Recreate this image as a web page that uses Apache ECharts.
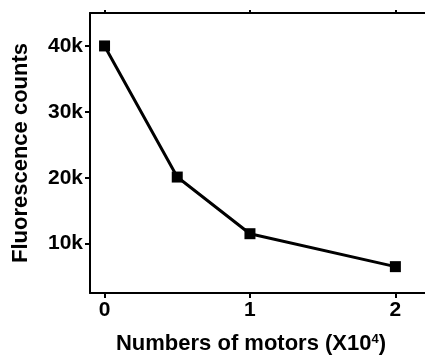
<!DOCTYPE html>
<html>
<head>
<meta charset="utf-8">
<script src="https://cdn.jsdelivr.net/npm/echarts@6/dist/echarts.min.js"></script>
<style>
  html, body { margin: 0; padding: 0; background: #fff; }
  #main { width: 425px; height: 358px; }
</style>
</head>
<body>
<div id="main"></div>
<script>
const motors = [0, 0.5, 1, 2];
const counts = [40000, 20100, 11500, 6500];
const xTicks = [0, 1, 2];
const yTicks = [10000, 20000, 30000, 40000];

const chartDom = document.getElementById("main");
const myChart = echarts.init(chartDom);

const font = "'Liberation Sans', Arial, sans-serif";
const lineStyle = { color: "#000", width: 2 };

const option = {
  animation: false,
  // plot runs past the right edge of the picture, like the cropped original
  grid: { left: 90, top: 13, width: 349, bottom: 65, outerBoundsMode: "none" },
  xAxis: [
    {
      type: "value",
      min: -0.1,
      max: 2.3,
      name: "Numbers of motors (X10{sup|4})",
      nameLocation: "middle",
      nameGap: 40,
      nameTextStyle: {
        color: "#000",
        fontFamily: font,
        fontWeight: "bold",
        fontSize: 22,
        padding: [0, 27, 0, 0],
        rich: {
          sup: {
            fontFamily: font,
            fontWeight: "bold",
            fontSize: 13,
            verticalAlign: "top",
            color: "#000",
          },
        },
      },
      axisLine: { onZero: false, lineStyle: lineStyle },
      axisTick: { length: 5, customValues: xTicks, lineStyle: lineStyle },
      axisLabel: {
        customValues: xTicks,
        margin: 7,
        color: "#000",
        fontFamily: font,
        fontWeight: "bold",
        fontSize: 21,
      },
      splitLine: { show: false },
    },
    {
      type: "value",
      position: "top",
      min: -0.1,
      max: 2.3,
      axisLine: { onZero: false, lineStyle: lineStyle },
      axisTick: { length: 3, customValues: xTicks, lineStyle: lineStyle },
      axisLabel: { show: false },
      splitLine: { show: false },
    },
  ],
  yAxis: {
    type: "value",
    min: 2500,
    max: 45000,
    name: "Fluorescence counts",
    nameLocation: "middle",
    nameGap: 58,
    nameTextStyle: {
      color: "#000",
      fontFamily: font,
      fontWeight: "bold",
      fontSize: 22,
    },
    axisLine: { onZero: false, lineStyle: lineStyle },
    axisTick: { length: 5, customValues: yTicks, lineStyle: lineStyle },
    axisLabel: {
      customValues: yTicks,
      margin: 7,
      color: "#000",
      fontFamily: font,
      fontWeight: "bold",
      fontSize: 21,
      formatter: (v) => v / 1000 + "k",
    },
    splitLine: { show: false },
  },
  series: [
    {
      type: "line",
      data: motors.map((m, i) => [m, counts[i]]),
      symbol: "rect",
      symbolSize: 11,
      lineStyle: { color: "#000", width: 3 },
      itemStyle: { color: "#000" },
    },
  ],
};

option && myChart.setOption(option);
</script>
</body>
</html>
